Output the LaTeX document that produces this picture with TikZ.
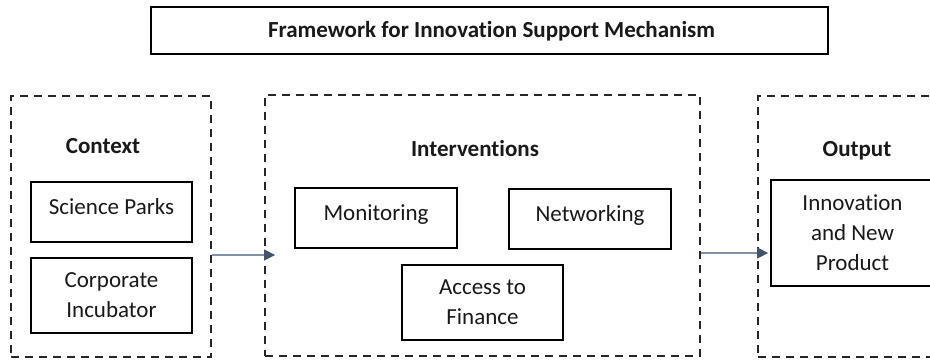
\documentclass[tikz,border=0pt]{standalone}
\usepackage{fontspec}
\setmainfont{Carlito}[Ligatures=NoCommon]
\usetikzlibrary{arrows.meta,calc}
\definecolor{arrline}{RGB}{128,144,166}
\definecolor{arrhead}{RGB}{68,84,106}
\definecolor{txtc}{RGB}{25,25,25}
\tikzset{
  every node/.style={text=txtc},
  solidbox/.style={draw=black,line width=1.4pt,rectangle,inner sep=0pt,align=center,
    font=\fontsize{23}{30}\selectfont},
  onebox/.style={solidbox,text height=15pt,text depth=11pt},
  dashbox/.style={draw=black!85,line width=1.8pt,dash pattern=on 8pt off 6pt,rectangle,inner sep=0pt},
  heading/.style={font=\bfseries\fontsize{23}{28}\selectfont,anchor=base,inner sep=0pt},
  conn/.style={draw=arrline,line width=1.5pt,-{Triangle[length=11pt,width=11pt,color=arrhead,fill=arrhead]}}
}
\begin{document}
\begin{tikzpicture}[x=1pt,y=-1pt]
\useasboundingbox (0,0) rectangle (930,361);
\clip (0,0) rectangle (930,361);
% title
\node[solidbox,minimum width=677pt,minimum height=47pt] (title) at (489.5,30.5) {};
\node[heading] (titletxt) at (491.5,38) {Framework for Innovation Support Mechanism};
% dashed groups
\node[dashbox,minimum width=200pt,minimum height=261pt] (ctx) at (111,226.5) {};
\node[dashbox,minimum width=435pt,minimum height=261pt] (int) at (482.5,225.5) {};
\node[dashbox,minimum width=200pt,minimum height=261pt] (out) at (858,226.5) {};
% headings
\node[heading] (ctxh) at (103,153.5) {Context};
\node[heading] (inth) at (475,156) {Interventions};
\node[heading] (outh) at (857,157) {Output};
% inner boxes
\node[onebox,minimum width=161pt,minimum height=60pt] (sci) at (111.5,212) {Science Parks};
\node[solidbox,minimum width=161pt,minimum height=75pt] (corp) at (111.5,295.5) {Corporate\\Incubator};
\node[onebox,minimum width=162pt,minimum height=60pt] (mon) at (376,218) {Monitoring};
\node[onebox,minimum width=162pt,minimum height=60pt] (net) at (590,219) {Networking};
\node[solidbox,minimum width=161pt,minimum height=75pt] (acc) at (482.5,302.5) {Access to\\Finance};
\node[solidbox,minimum width=163pt,minimum height=106pt] (inn) at (852.5,233) {Innovation\\and New\\Product};
% connectors
\coordinate (a1) at (0,255);
\coordinate (a2) at (0,253);
\draw[conn] (ctx.east |- a1) -- ([xshift=11pt]int.west |- a1);
\draw[conn] (int.east |- a2) -- ([xshift=11pt]out.west |- a2);
\end{tikzpicture}
\end{document}
